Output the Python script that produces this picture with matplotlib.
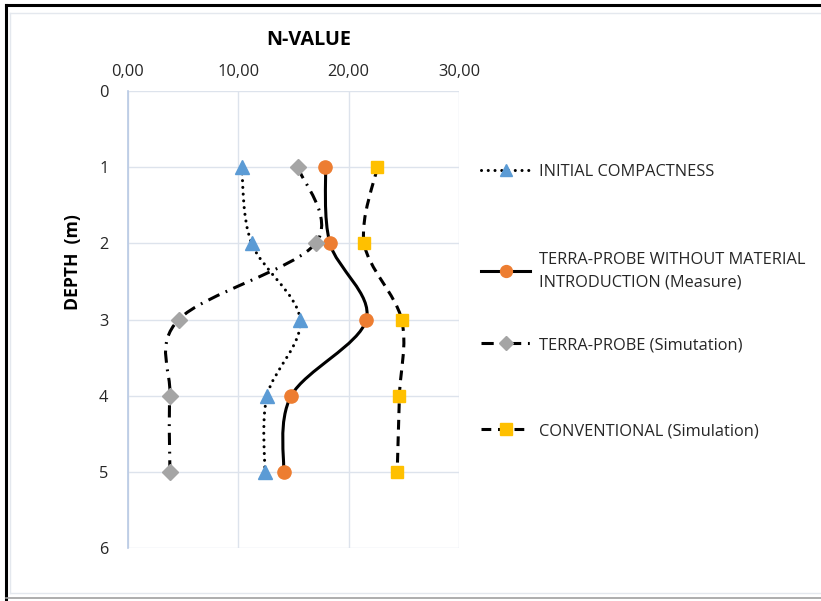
import matplotlib.pyplot as plt
from matplotlib.path import Path
from matplotlib.patches import PathPatch
from matplotlib.lines import Line2D
import matplotlib.ticker as mticker
import numpy as np

plt.rcParams['font.family'] = ['Open Sans', 'DejaVu Sans']

# ----- Data -----
depth = [1, 2, 3, 4, 5]
initial = [10.3, 11.2, 15.6, 12.6, 12.4]
tp_measure = [17.9, 18.3, 21.6, 14.8, 14.1]
tp_sim = [15.4, 17.0, 4.6, 3.8, 3.8]
conventional = [22.6, 21.4, 24.8, 24.6, 24.4]

labels = ['INITIAL COMPACTNESS',
          'TERRA-PROBE WITHOUT MATERIAL\nINTRODUCTION (Measure)',
          'TERRA-PROBE (Simutation)',
          'CONVENTIONAL (Simulation)']

TXT = '#262626'
GRID = '#dde3ec'


def smooth_path(xs, ys):
    # Excel-like smoothed line as cubic bezier segments (catmull-rom)
    pts = np.column_stack([xs, ys]).astype(float)
    n = len(pts)
    verts = [pts[0]]
    codes = [Path.MOVETO]
    for i in range(n - 1):
        p0 = pts[i - 1] if i > 0 else pts[i]
        p1 = pts[i]
        p2 = pts[i + 1]
        p3 = pts[i + 2] if i + 2 < n else pts[i + 1]
        c1 = p1 + (p2 - p0) / 6.0
        c2 = p2 - (p3 - p1) / 6.0
        verts += [c1, c2, p2]
        codes += [Path.CURVE4] * 3
    return Path(verts, codes)


fig = plt.figure(figsize=(8.21, 6.01), dpi=100)
ax = fig.add_axes([128 / 821, 1 - 548 / 601, 331 / 821, 457 / 601])

# values, dash pattern (None = solid), cap, marker, colour, size
series = [
    (initial, (0.01, 2.2), 'round', '^', '#5B9BD5', 10),
    (tp_measure, None, 'butt', 'o', '#ED7D31', 9.5),
    (tp_sim, (4, 2.2, 0.6, 2.2), 'butt', 'D', '#A5A5A5', 8),
    (conventional, (3.2, 2.2), 'butt', 's', '#FFC000', 9),
]

handles = []
for vals, dash, cap, mk, col, ms in series:
    ls = '-' if dash is None else (0, dash)
    patch = PathPatch(smooth_path(vals, depth), facecolor='none',
                      edgecolor='black', lw=2.2, zorder=3, linestyle=ls,
                      capstyle=cap)
    ax.add_patch(patch)
    ax.plot(vals, depth, ls='none', marker=mk, color=col, ms=ms,
            mec=col, zorder=4)
    h = Line2D([], [], color='black', lw=2.2, linestyle=ls,
               dash_capstyle=cap, marker=mk, mfc=col, mec=col, ms=ms * 0.9)
    handles.append(h)

ax.set_xlim(0, 30)
ax.set_ylim(6, 0)
ax.set_xticks([0, 10, 20, 30])
ax.set_yticks(range(7))
ax.xaxis.set_major_formatter(mticker.FuncFormatter(lambda v, p: f'{v:.2f}'.replace('.', ',')))
ax.xaxis.tick_top()
ax.tick_params(axis='both', length=0, labelsize=11.8, colors=TXT)
ax.tick_params(axis='x', pad=8)
ax.tick_params(axis='y', pad=14)
ax.grid(True, color=GRID, lw=1)
ax.set_axisbelow(True)
for s in ['top', 'right', 'bottom']:
    ax.spines[s].set_visible(False)
ax.spines['left'].set_color('#b8c9e4')
ax.spines['left'].set_linewidth(1.2)

fig.text(309 / 821, 1 - 40 / 601, 'N-VALUE', ha='center', va='center',
         fontsize=14.2, fontweight='bold', color='black')
fig.text(73 / 821, 1 - 262 / 601, 'DEPTH  (m)', ha='center', va='center',
         rotation=90, fontsize=12.6, fontweight='bold', color='black')

# legend entries placed one by one (Excel spacing is uneven)
leg_y = [172, 271, 345, 431]
for h, lab, yy in zip(handles, labels, leg_y):
    leg = fig.legend([h], [lab], loc='center left',
                     bbox_to_anchor=(481 / 821, 1 - yy / 601),
                     frameon=False, fontsize=11.8, handlelength=3.0,
                     handletextpad=0.55, borderpad=0, borderaxespad=0)
    for t in leg.get_texts():
        t.set_color(TXT)
        t.set_linespacing(1.55)

# frame of the screenshot
fig.add_artist(Line2D([6 / 821, 6 / 821], [0, 1 - 5 / 601], color='black', lw=2.2))
fig.add_artist(Line2D([6 / 821, 1], [1 - 5 / 601, 1 - 5 / 601], color='black', lw=2.2))
fig.add_artist(Line2D([6 / 821, 1], [1 - 598 / 601, 1 - 598 / 601], color='#a0a0a0', lw=1.2))
fig.add_artist(Line2D([10 / 821, 1], [1 - 13 / 601, 1 - 13 / 601], color='#e4e8ee', lw=1))
fig.add_artist(Line2D([10 / 821, 10 / 821], [1 - 593 / 601, 1 - 13 / 601], color='#e4e8ee', lw=1))
fig.add_artist(Line2D([10 / 821, 1], [1 - 593 / 601, 1 - 593 / 601], color='#e4e8ee', lw=1))

fig.savefig('out.png', dpi=100)
